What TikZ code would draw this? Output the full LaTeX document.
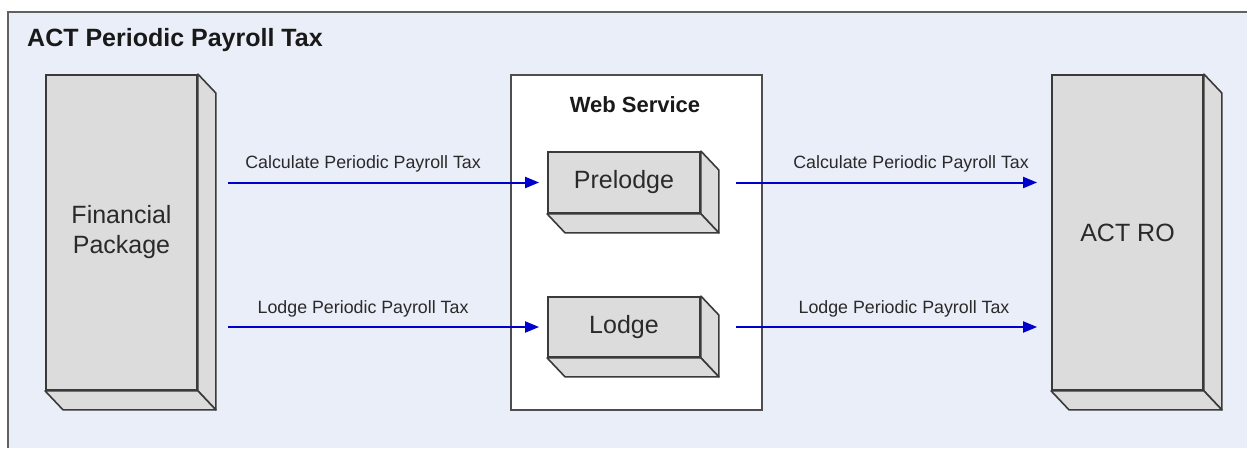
\documentclass[tikz,border=0pt]{standalone}
\usepackage{fontspec}
\setmainfont{Liberation Sans}
\usetikzlibrary{arrows.meta}
\definecolor{bgblue}{HTML}{E9EEF8}
\definecolor{boxgray}{HTML}{DCDCDC}
\definecolor{edgegray}{HTML}{3A3A3A}
\definecolor{arrowblue}{HTML}{0000CC}
\definecolor{textgray}{HTML}{2A2A2A}
\tikzset{
  blockface/.style={draw=edgegray, fill=boxgray, line width=1.8pt, inner sep=0pt, align=center, text=textgray},
  extrude/.style={draw=edgegray, fill=boxgray, line width=1.6pt, line join=round},
  flow/.style={draw=arrowblue, line width=2pt, -{Triangle[length=14pt,width=11pt]}},
  flowlabel/.style={font=\fontsize{17.8}{20}\selectfont, text=textgray, inner sep=0pt, above=9pt},
}
\newcommand{\extrudebox}[1]{%
  \draw[extrude] (#1.north east) -- ++(18,19) -- ([shift={(18,19)}]#1.south east) -- (#1.south east) -- cycle;
  \draw[extrude] (#1.south west) -- ++(18,19) -- ([shift={(18,19)}]#1.south east) -- (#1.south east) -- cycle;
}
\begin{document}
\begin{tikzpicture}[x=1pt,y=-1pt]
\useasboundingbox (0,0) rectangle (1247,448);
\fill[white] (0,0) rectangle (1247,448);
\fill[bgblue] (8,12) rectangle (1247,448);
\draw[edgegray!80, line width=1.5pt] (8,448) -- (8,12) -- (1247,12);
\node[anchor=west, font=\bfseries\fontsize{25}{30}\selectfont, inner sep=0pt, text=black!90] (title) at (27,40) {ACT Periodic Payroll Tax};

\node[draw=edgegray!90, fill=white, line width=1.5pt, minimum width=251pt, minimum height=335pt, inner sep=0pt] (ws) at (636.5,242.5) {};
\node[font=\bfseries\fontsize{22}{26}\selectfont, inner sep=0pt, text=black!90] (wslabel) at (635,105) {Web Service};

\node[blockface, minimum width=151pt, minimum height=315pt, font=\fontsize{25}{30}\selectfont] (fin) at (121.5,232.5) {Financial\\Package};
\extrudebox{fin}
\node[blockface, minimum width=151pt, minimum height=315pt, font=\fontsize{25}{30}\selectfont] (act) at (1127.5,232.5) {ACT RO};
\extrudebox{act}
\node[blockface, minimum width=152pt, minimum height=61pt, font=\fontsize{25}{30}\selectfont] (prel) at (624,182.5) {Prelodge};
\extrudebox{prel}
\node[blockface, minimum width=152pt, minimum height=60pt, font=\fontsize{25}{30}\selectfont] (lodge) at (624,327) {Lodge};
\extrudebox{lodge}

\draw[flow, shorten <=30pt, shorten >=8pt] (fin.east |- prel.west) -- node[flowlabel, pos=0.473] (l1) {Calculate Periodic Payroll Tax} (prel.west);
\draw[flow, shorten <=35pt, shorten >=14pt] (prel.east) -- node[flowlabel, pos=0.60] (l2) {Calculate Periodic Payroll Tax} (act.west |- prel.east);
\draw[flow, shorten <=30pt, shorten >=8pt] (fin.east |- lodge.west) -- node[flowlabel, pos=0.473] (l3) {Lodge Periodic Payroll Tax} (lodge.west);
\draw[flow, shorten <=35pt, shorten >=14pt] (lodge.east) -- node[flowlabel, pos=0.58] (l4) {Lodge Periodic Payroll Tax} (act.west |- lodge.east);
\end{tikzpicture}
\end{document}
